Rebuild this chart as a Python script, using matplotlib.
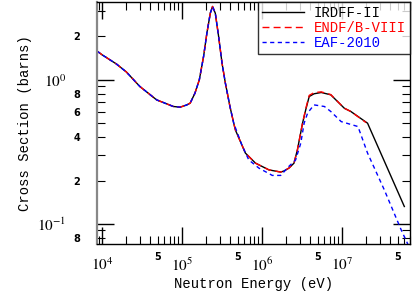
import numpy as np
import matplotlib
matplotlib.use("Agg")
import matplotlib.pyplot as plt
from matplotlib.ticker import LogLocator, FuncFormatter

plt.rcParams['mathtext.fontset'] = 'stix'

# IRDFF-II
e_irdff = [8.51e3, 1.0e4, 1.5e4, 2.0e4, 2.95e4, 4.79e4, 7.76e4, 9.44e4, 1.146e5, 1.26e5, 1.445e5,
           1.64e5, 1.854e5, 2.04e5, 2.25e5, 2.40e5, 2.60e5, 2.86e5, 3.155e5, 3.475e5, 3.98e5,
           4.42e5, 4.65e5, 6.19e5, 8.28e5, 1.22e6, 1.71e6, 1.88e6, 2.17e6, 2.51e6, 2.77e6,
           3.21e6, 3.52e6, 3.89e6, 4.47e6, 5.5e6, 7.24e6, 1.07e7, 1.29e7, 2.09e7, 6.03e7]
s_irdff = [1.59, 1.49, 1.29, 1.135, 0.90, 0.726, 0.653, 0.646, 0.67, 0.689, 0.807,
           1.0, 1.452, 2.11, 2.90, 3.23, 2.90, 2.0, 1.306, 0.948, 0.646,
           0.50, 0.447, 0.31, 0.264, 0.237, 0.229, 0.233, 0.244, 0.264, 0.327,
           0.50, 0.62, 0.766, 0.80, 0.817, 0.787, 0.635, 0.603, 0.50, 0.132]

# ENDF/B-VIII
e_endf = [8.51e3, 1.0e4, 1.5e4, 2.0e4, 2.95e4, 4.79e4, 7.76e4, 9.44e4, 1.146e5, 1.26e5, 1.445e5,
          1.64e5, 1.854e5, 2.04e5, 2.25e5, 2.40e5, 2.60e5, 2.86e5, 3.155e5, 3.475e5, 3.98e5,
          4.42e5, 4.65e5, 6.19e5, 8.28e5, 1.22e6, 1.71e6, 1.88e6, 2.17e6, 2.51e6, 2.77e6,
          3.21e6, 3.52e6, 3.89e6, 4.47e6, 5.5e6, 7.24e6, 1.07e7, 1.29e7, 2.0e7]
s_endf = [1.59, 1.49, 1.29, 1.135, 0.90, 0.726, 0.653, 0.646, 0.67, 0.689, 0.807,
          1.0, 1.452, 2.11, 2.90, 3.23, 2.90, 2.0, 1.306, 0.948, 0.646,
          0.50, 0.447, 0.31, 0.264, 0.237, 0.229, 0.233, 0.244, 0.264, 0.327,
          0.50, 0.63, 0.78, 0.815, 0.825, 0.79, 0.635, 0.603, 0.505]

# EAF-2010
e_eaf = [8.51e3, 1.0e4, 1.5e4, 2.0e4, 2.95e4, 4.79e4, 7.76e4, 9.44e4, 1.146e5, 1.26e5, 1.445e5,
         1.64e5, 1.854e5, 2.04e5, 2.25e5, 2.40e5, 2.60e5, 2.86e5, 3.155e5, 3.475e5, 3.98e5,
         4.42e5, 5.62e5, 6.82e5, 9.12e5, 1.343e6, 1.71e6, 2.17e6, 2.63e6, 3.05e6, 3.36e6,
         3.72e6, 4.47e6, 6.03e6, 7.24e6, 9.77e6, 1.585e7, 2.09e7, 3.39e7, 5.5e7, 7.2e7]
s_eaf = [1.59, 1.49, 1.29, 1.135, 0.90, 0.726, 0.653, 0.646, 0.67, 0.689, 0.807,
         1.0, 1.452, 2.11, 2.90, 3.23, 2.90, 2.0, 1.306, 0.948, 0.646,
         0.50, 0.35, 0.278, 0.244, 0.217, 0.217, 0.251, 0.278, 0.363, 0.50,
         0.589, 0.67, 0.653, 0.603, 0.513, 0.474, 0.31, 0.172, 0.091, 0.066]

labels = ["IRDFF-II", "ENDF/B-VIII", "EAF-2010"]
colors = ["black", "red", "blue"]

fig = plt.figure(figsize=(4.15, 2.94), dpi=100)
ax = fig.add_axes([97/415, 50/294, 313/415, 242/294])

ax.plot(e_irdff, s_irdff, color=colors[0], lw=1.0, label=labels[0])
ax.plot(e_endf, s_endf, color=colors[1], lw=1.0, ls=(0, (5, 3)), label=labels[1])
ax.plot(e_eaf, s_eaf, color=colors[2], lw=1.0, ls=(0, (3, 2.5)), label=labels[2])

ax.set_xscale('log')
ax.set_yscale('log')
ax.set_xlim(8.6e3, 7.1e7)
ax.set_ylim(0.0725, 3.47)

ax.xaxis.set_major_locator(LogLocator(base=10, numticks=20))
ax.xaxis.set_minor_locator(LogLocator(base=10, subs=np.arange(2, 10), numticks=20))
ax.yaxis.set_major_locator(LogLocator(base=10, numticks=20))
ax.yaxis.set_minor_locator(LogLocator(base=10, subs=np.arange(2, 10), numticks=20))

def major_fmt(v, pos):
    return r'$10^{%d}$' % int(round(np.log10(v)))

def xminor_fmt(v, pos):
    m = v / 10 ** np.floor(np.log10(v) + 1e-9)
    return '5' if abs(m - 5) < 0.01 else ''

def yminor_fmt(v, pos):
    m = v / 10 ** np.floor(np.log10(v) + 1e-9)
    for d in (2, 4, 6, 8):
        if abs(m - d) < 0.01:
            return str(d)
    return ''

ax.xaxis.set_major_formatter(FuncFormatter(major_fmt))
ax.yaxis.set_major_formatter(FuncFormatter(major_fmt))
ax.xaxis.set_minor_formatter(FuncFormatter(xminor_fmt))
ax.yaxis.set_minor_formatter(FuncFormatter(yminor_fmt))

ax.tick_params(which='both', direction='in', top=True, right=True, colors='black')
ax.tick_params(which='major', length=12, width=1.0, labelsize=11, pad=8)
ax.tick_params(which='minor', length=6, width=0.8, labelsize=7)
ax.tick_params(axis='y', which='minor', pad=12)
ax.tick_params(axis='y', which='major', pad=22)
ax.tick_params(axis='x', which='minor', pad=6)
ax.tick_params(axis='x', which='major', pad=9)
for lab in ax.get_xticklabels(which='minor') + ax.get_yticklabels(which='minor'):
    lab.set_family('DejaVu Sans')
    lab.set_fontweight('bold')

ax.spines['left'].set_color('#888888')
ax.spines['left'].set_linewidth(1.6)
for s in ('top', 'right', 'bottom'):
    ax.spines[s].set_linewidth(1.0)

ax.set_xlabel("Neutron Energy (eV)", family='Liberation Mono', fontsize=10, labelpad=2)
ax.set_ylabel("Cross Section (barns)", family='Liberation Mono', fontsize=10, labelpad=4)

leg = ax.legend(loc='upper right', frameon=True, fancybox=False, edgecolor='black',
                prop={'family': 'Liberation Mono', 'size': 10}, handlelength=3.0,
                borderpad=0.3, labelspacing=0.05, handletextpad=0.7,
                borderaxespad=0.0)
leg.get_frame().set_linewidth(1.0)
for t, c in zip(leg.get_texts(), colors):
    t.set_color(c)

fig.savefig("out.png", dpi=100)
